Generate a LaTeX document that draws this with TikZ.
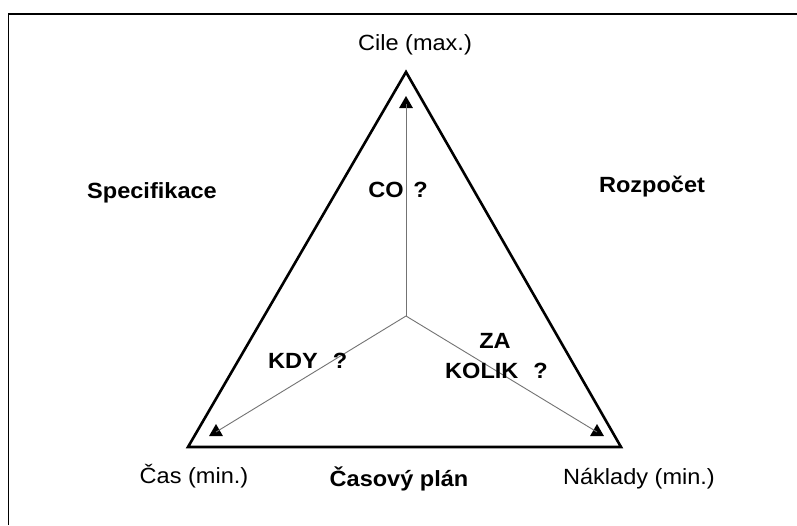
\documentclass[tikz,border=0pt]{standalone}
\usepackage{fontspec}
\setmainfont{Liberation Sans}
\usetikzlibrary{shapes.geometric}
\newcommand{\widetxt}[1]{\scalebox{1.07}[1]{#1}}
\begin{document}
\begin{tikzpicture}[x=1pt,y=-1pt,
  lbl/.style={inner sep=0pt,anchor=base,font=\fontsize{22}{26}\selectfont},
  blbl/.style={lbl,font=\fontsize{22}{26}\selectfont\bfseries},
  side/.style={line width=2.6pt,line join=miter},
  spoke/.style={line width=0.9pt,draw=black!55},
  tip/.style={regular polygon,regular polygon sides=3,fill=black,inner sep=0pt,minimum size=16pt}]
\useasboundingbox (0,0) rectangle (797,525);
\fill[white] (0,0) rectangle (797,525);
% frame
\draw[line width=1.5pt] (8.5,525) -- (8.5,14) -- (797,14);
% corners of the triangle and its centre
\coordinate (top) at (406,72);
\coordinate (bl) at (188,447);
\coordinate (br) at (621,447);
\coordinate (mid) at (406,316);
\draw[side] (top) -- (bl) -- (br) -- cycle;
% markers at the ends of the spokes
\node[tip] (ttop) at (406,104) {};
\node[tip] (tleft) at (216,432) {};
\node[tip] (tright) at (597,432) {};
\draw[spoke] (mid) -- (ttop.center);
\draw[spoke] (mid) -- (tleft.center);
\draw[spoke] (mid) -- (tright.center);
% corner labels
\node[lbl] (cile) at (415,50) {\widetxt{Cile (max.)}};
\node[lbl] (cas) at (194,483) {\widetxt{Čas (min.)}};
\node[lbl] (naklady) at (639,484) {\widetxt{Náklady (min.)}};
% side labels
\node[blbl] (spec) at (152,198) {\widetxt{Specifikace}};
\node[blbl] (rozp) at (652,192) {\widetxt{Rozpočet}};
\node[blbl] (plan) at (399,486) {\widetxt{Časový plán}};
% questions
\node[blbl] (co) at (398,197) {\widetxt{CO\hspace{9pt}?}};
\node[blbl,anchor=base west] (kdy) at (268,368) {\widetxt{KDY\hspace{14pt}?}};
\node[blbl] (za) at (495,348) {\widetxt{ZA}};
\node[blbl,anchor=base west] (kolik) at (445,378) {\widetxt{KOLIK\hspace{14pt}?}};
\end{tikzpicture}
\end{document}
